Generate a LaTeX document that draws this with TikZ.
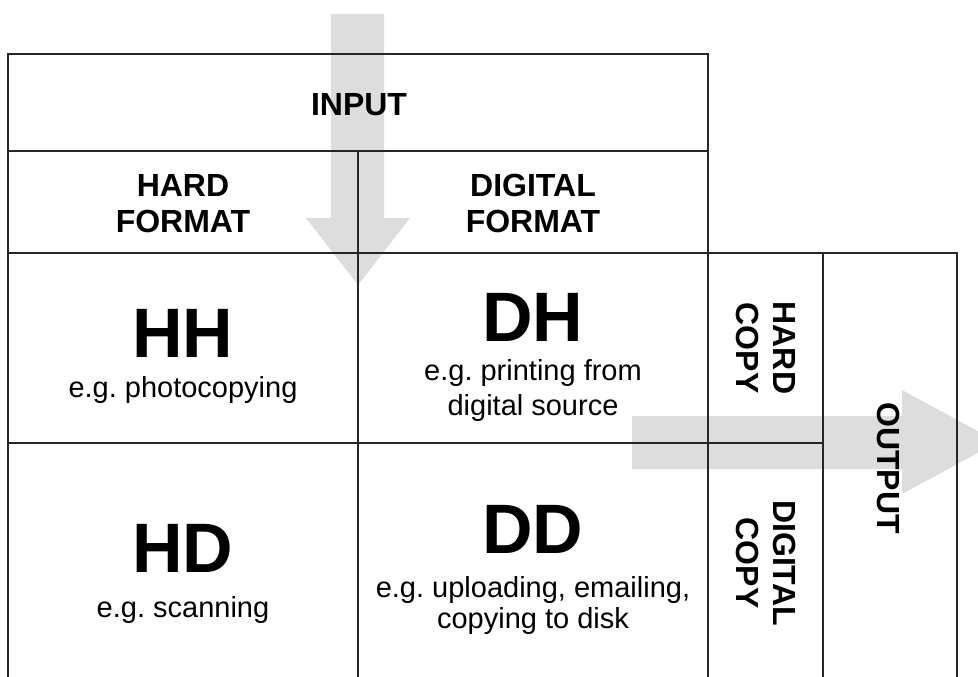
\documentclass[tikz,border=0pt]{standalone}
\usepackage{fontspec}
\setmainfont{Liberation Sans}
\frenchspacing
\definecolor{arrowgray}{RGB}{221,221,221}
\tikzset{
 gridline/.style={line width=1.5pt, draw=black!85},
 bigarrow/.style={fill=arrowgray, draw=none},
 headtext/.style={font=\fontsize{32}{36}\selectfont\bfseries, inner sep=0pt, anchor=base},
 bigtext/.style={font=\fontsize{70}{80}\selectfont\bfseries, inner sep=0pt, anchor=base},
 subtext/.style={font=\fontsize{29}{35}\selectfont, inner sep=0pt, anchor=base},
 vtext/.style={font=\fontsize{32}{37}\selectfont\bfseries, inner sep=0pt, rotate=-90, align=center},
}
\begin{document}
\begin{tikzpicture}[x=1pt,y=-1pt]
\useasboundingbox (0,0) rectangle (978,677);
\clip (0,0) rectangle (978,677);
% arrows (background)
\fill[bigarrow] (331,14) -- (384,14) -- (384,218) -- (410,218) -- (358,285) -- (306,218) -- (331,218) -- cycle;
\fill[bigarrow] (632,416) -- (902,416) -- (902,390) -- (998,442) -- (902,494) -- (902,469) -- (632,469) -- cycle;
% grid
\draw[gridline] (8,677) -- (8,54) -- (708,54) -- (708,677);
\draw[gridline] (8,151) -- (708,151);
\draw[gridline] (8,253) -- (957,253) -- (957,677);
\draw[gridline] (8,443) -- (823,443);
\draw[gridline] (358,151) -- (358,677);
\draw[gridline] (823,253) -- (823,677);
% header texts
\node[headtext] (input) at (359,115) {INPUT};
\node[headtext] (hard1) at (183,196.5) {HARD};
\node[headtext] (hard2) at (183,232.5) {FORMAT};
\node[headtext] (dig1) at (533,196) {DIGITAL};
\node[headtext] (dig2) at (533,232) {FORMAT};
% cells
\node[bigtext] (hh) at (183,357) {HH};
\node[subtext] (hhs) at (183,397) {e.g. photocopying};
\node[bigtext] (dh) at (533,341) {DH};
\node[subtext] (dhs1) at (533,380.5) {e.g. printing from};
\node[subtext] (dhs2) at (533,415) {digital source};
\node[bigtext] (hd) at (183,572) {HD};
\node[subtext] (hds) at (183,617) {e.g. scanning};
\node[bigtext] (dd) at (533,553) {DD};
\node[subtext] (dds1) at (533,597) {e.g. uploading, emailing,};
\node[subtext] (dds2) at (533,628) {copying to disk};
% vertical texts
\node[vtext] (hcopy) at (766,348) {HARD\\COPY};
\node[vtext] (dcopy) at (766,563) {DIGITAL\\COPY};
\node[vtext] (output) at (888.5,468) {OUTPUT};
\end{tikzpicture}
\end{document}
